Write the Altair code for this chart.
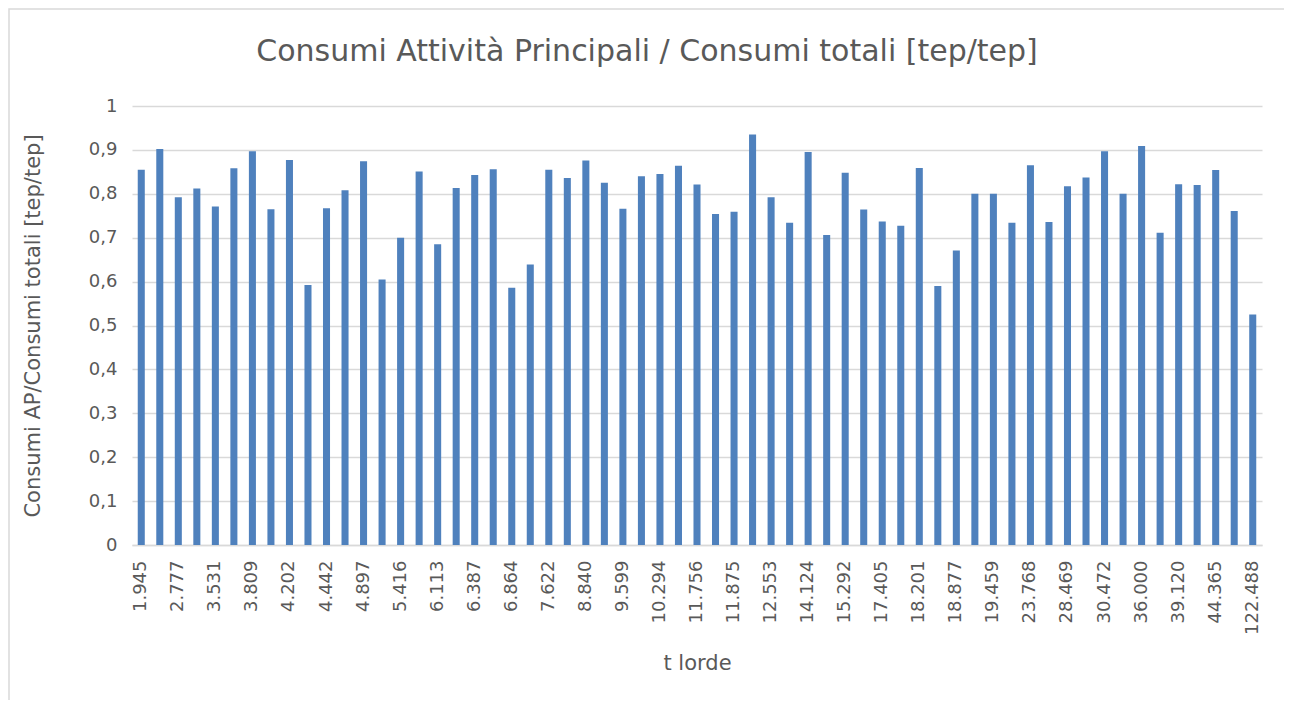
import altair as alt
import pandas as pd

shown = ["1.945", "2.777", "3.531", "3.809", "4.202", "4.442", "4.897", "5.416",
         "6.113", "6.387", "6.864", "7.622", "8.840", "9.599", "10.294", "11.756",
         "11.875", "12.553", "14.124", "15.292", "17.405", "18.201", "18.877",
         "19.459", "23.768", "28.469", "30.472", "36.000", "39.120", "44.365", "122.488"]
# categories between the labelled ones (their labels are hidden in the original)
hidden = ["2.360", "3.154", "3.670", "4.005", "4.321", "4.670", "5.156", "5.765",
          "6.250", "6.625", "7.243", "8.231", "9.220", "9.946", "11.025", "11.815",
          "12.214", "13.338", "14.708", "16.348", "17.803", "18.539", "19.168",
          "21.613", "26.118", "29.470", "33.236", "37.560", "41.742", "60.125"]

values = [0.855, 0.902, 0.792, 0.812, 0.771, 0.858, 0.897, 0.765, 0.877, 0.592,
          0.767, 0.808, 0.874, 0.605, 0.700, 0.851, 0.685, 0.813, 0.843, 0.856,
          0.586, 0.639, 0.855, 0.836, 0.876, 0.825, 0.766, 0.840, 0.845, 0.864,
          0.821, 0.754, 0.759, 0.935, 0.792, 0.734, 0.895, 0.706, 0.848, 0.764,
          0.737, 0.727, 0.859, 0.590, 0.671, 0.800, 0.800, 0.734, 0.865, 0.736,
          0.817, 0.837, 0.897, 0.800, 0.909, 0.711, 0.822, 0.820, 0.854, 0.761,
          0.525]

y_ticks = [0, 0.1, 0.2, 0.3, 0.4, 0.5, 0.6, 0.7, 0.8, 0.9, 1]

title_text = "Consumi Attività Principali / Consumi totali [tep/tep]"

categories = []
for i, s in enumerate(shown):
    categories.append(s)
    if i < len(hidden):
        categories.append(hidden[i])

df = pd.DataFrame({"cat": categories, "val": values})

FONT = "DejaVu Sans"
GREY = "#595959"

bars = alt.Chart(df).mark_bar(color="#4F81BD").encode(
    x=alt.X("cat:N", sort=categories,
            scale=alt.Scale(paddingInner=0.62, paddingOuter=0.31),
            axis=alt.Axis(title="t lorde", values=shown, labelAngle=270,
                          labelAlign="right", labelBaseline="middle",
                          labelPadding=15, labelFontSize=18, labelColor=GREY,
                          labelFont=FONT, ticks=False, domainColor="#D9D9D9",
                          domainWidth=1.3, titleFont=FONT, titleFontSize=21,
                          titleFontWeight="normal", titleColor=GREY,
                          titleY=118, titleBaseline="middle", titleX=565,
                          labelOverlap=False)),
    y=alt.Y("val:Q",
            scale=alt.Scale(domain=[0, 1]),
            axis=alt.Axis(title="Consumi AP/Consumi totali [tep/tep]",
                          values=y_ticks,
                          labelExpr="replace(toString(datum.value), '.', ',')",
                          labelFontSize=18, labelColor=GREY, labelFont=FONT,
                          labelPadding=15, ticks=False, domain=False,
                          gridColor="#D9D9D9", gridWidth=1.3,
                          titleFont=FONT, titleFontSize=21, titleFontWeight="normal",
                          titleColor=GREY, titleX=-99, titleY=219.5,
                          titleAlign="center", titleBaseline="middle", titleAngle=270)),
)

single = alt.Data(values=[{"t": title_text}])

frame = alt.Chart(single).mark_rect(
    fill="transparent", stroke="#D9D9D9", strokeWidth=1.5
).encode(
    x=alt.value(-123), x2=alt.value(1170),
    y=alt.value(-97), y2=alt.value(610),
)

title = alt.Chart(single).mark_text(
    font=FONT, fontSize=30, color=GREY, align="center", baseline="alphabetic"
).encode(
    text="t:N",
    x=alt.value(515), y=alt.value(-45),
)

chart = alt.layer(frame, bars, title).properties(
    width=1130,
    height=439,
    autosize=alt.AutoSizeParams(type="none"),
    padding={"left": 124, "top": 98, "right": 22, "bottom": 155},
).configure_view(stroke=None)

chart.save("out.html", embed_options={"renderer": "svg", "actions": False})
